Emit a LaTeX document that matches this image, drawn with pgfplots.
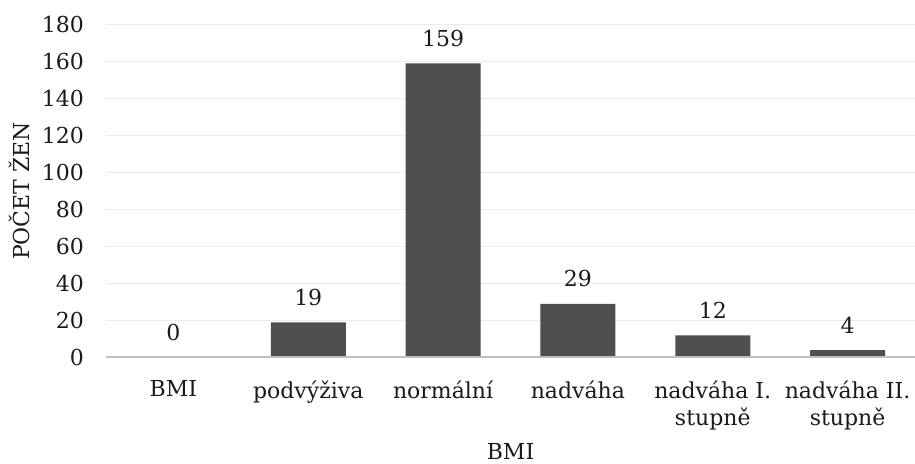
\documentclass[border=0pt]{standalone}
\usepackage{pgfplots}
\pgfplotsset{compat=1.18}
\usepackage{fontspec}
\setmainfont{DejaVu Serif}
\definecolor{barfill}{HTML}{4F4F4F}
\definecolor{gridc}{HTML}{EBEBEB}
\definecolor{axisc}{HTML}{BFBFBF}
\definecolor{txt}{HTML}{1A1A1A}
\newcommand{\lblfont}{\fontsize{22}{27}\selectfont}
\begin{document}
\begin{tikzpicture}
\path[use as bounding box] (0pt,0pt) rectangle (915pt,463pt);
\begin{axis}[
  at={(106pt,105.5pt)}, anchor=south west,
  scale only axis, width=809pt, height=333pt,
  xmin=-0.5, xmax=5.5, ymin=0, ymax=180,
  ybar, bar width=75pt,
  axis line style={draw=none},
  major tick length=0pt,
  xtick={0,...,5},
  xticklabels={BMI, podvýživa, normální, nadváha, {nadváha I.\\stupně}, {nadváha II.\\stupně}},
  ytick={0,20,...,180},
  /pgf/number format/assume math mode=true,
  tick label style={font=\lblfont, text=txt},
  xticklabel style={align=center, anchor=north, inner sep=0pt, yshift=-23pt},
  yticklabel style={anchor=east, inner sep=0pt, xshift=-22pt},
  ymajorgrids, grid style={gridc, line width=1.3pt},
  nodes near coords,
  nodes near coords style={font=\lblfont, text=txt, anchor=base, inner sep=0pt, yshift=17pt},
  xlabel={BMI},
  xlabel style={at={(axis description cs:0.5,0)}, anchor=base, yshift=-102pt, font=\lblfont, text=txt},
  ylabel={POČET ŽEN},
  ylabel style={at={(axis description cs:0,0.5)}, anchor=center, yshift=87pt, font=\lblfont, text=txt},
]
\addplot[fill=barfill, draw=none] coordinates {(0,0) (1,19) (2,159) (3,29) (4,12) (5,4)};
% category axis line, drawn over the bar bases
\draw[axisc, line width=2.5pt] (axis cs:-0.5,0) -- (axis cs:5.5,0);
\end{axis}
\end{tikzpicture}
\end{document}
